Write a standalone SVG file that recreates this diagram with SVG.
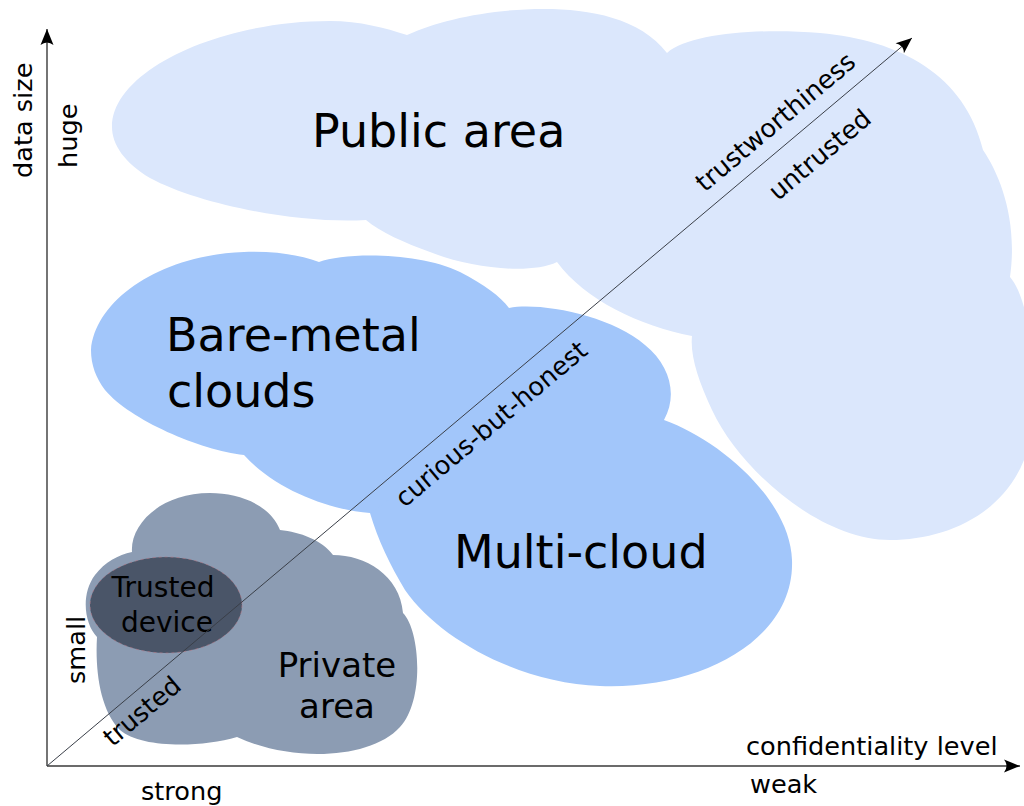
<svg xmlns="http://www.w3.org/2000/svg" width="1024" height="806" viewBox="0 0 1024 806">
<defs>
<style>
text{font-family:"DejaVu Sans","Verdana",sans-serif;fill:#000}
.big{font-size:46px}
.lbl{font-size:25.6px}
.axis{stroke:#3a3a3a;stroke-width:1.4;fill:none}
.diag{stroke:#3a3f48;stroke-width:1;fill:none}
</style>
<marker id="arr" markerUnits="userSpaceOnUse" markerWidth="24" markerHeight="16" viewBox="-20 -8 24 16" refX="0" refY="0" orient="auto">
<path d="M0,0 L-16,-6.5 Q-11,0 -16,6.5 Z" fill="#000"/>
</marker>
</defs>
<rect width="1024" height="806" fill="#fff"/>

<g id="public-area">
<path fill="#dbe7fc" d="M112,127 C112,70 220,21 330,21 C360,21 385,28 407,35 C440,20 490,9 544,9 C590,9 640,18 667,53 C690,33 760,28 820,33 C900,40 965,75 983,150 C1000,175 1018,220 1010,277 C1030,300 1040,380 1030,440 C1015,510 950,540 890,540 C820,540 740,470 712,410 C698,380 690,355 692,336 C640,326 585,300 557,262 C530,275 470,268 430,252 C405,243 380,232 366,220 C300,224 200,205 150,178 C125,163 112,145 112,127 Z"/>
<text class="big" x="312" y="147">Public area</text>
</g>

<g id="bare-metal">
<path fill="#a2c6fa" d="M91,350 C95,300 160,255 244,252 C275,251 300,255 319,262 C345,252 420,252 460,272 C485,285 500,296 509,308 C540,302 610,315 645,345 C670,365 678,395 664,420 L640,440 L560,470 L420,520 L370,513 C330,510 275,490 244,455 C200,450 130,420 105,390 C96,378 91,365 91,350 Z"/>
<text class="big" x="166" y="351">Bare-metal</text>
<text class="big" x="167" y="407">clouds</text>
</g>

<g id="multi-cloud">
<path fill="#a2c6fa" d="M664,420 C720,440 790,500 792,560 C795,640 700,690 600,686 C520,683 440,640 405,590 C390,565 378,540 370,513 L500,420 Z"/>
<text class="big" x="454" y="568">Multi-cloud</text>
</g>

<g id="private-area">
<path fill="#8c9cb3" d="M132,552 C130,525 160,493 210,493 C240,493 270,505 280,530 C300,532 322,540 333,555 C365,555 400,575 403,613 C420,630 425,700 400,727 C370,760 290,762 237,737 C200,748 140,748 120,730 C100,710 95,670 97,637 C85,625 80,595 95,575 C105,562 118,555 132,552 Z"/>
<text x="337" y="677" style="font-size:34px" text-anchor="middle">Private</text>
<text x="337" y="718" style="font-size:34px" text-anchor="middle">area</text>
</g>

<g id="trusted-device">
<ellipse cx="166" cy="605" rx="76" ry="48" fill="#4a5568" stroke="#b87482" stroke-width="0.8" stroke-dasharray="3 3" stroke-opacity="0.7"/>
<text x="163" y="597" style="font-size:28px" text-anchor="middle">Trusted</text>
<text x="167" y="632" style="font-size:28px" text-anchor="middle">device</text>
</g>

<g id="connectors">
<line class="axis" x1="47" y1="766" x2="47" y2="29" marker-end="url(#arr)"/>
<line class="axis" x1="47" y1="766" x2="1020" y2="766" marker-end="url(#arr)"/>
<line class="diag" x1="47" y1="766" x2="912" y2="38" marker-end="url(#arr)"/>
</g>

<g id="axis-labels">
<text class="lbl" transform="translate(32,178) rotate(-90)">data size</text>
<text class="lbl" transform="translate(77,168) rotate(-90)">huge</text>
<text class="lbl" transform="translate(85,684) rotate(-90)">small</text>
<text class="lbl" x="746" y="755">confidentiality level</text>
<text class="lbl" x="750" y="793">weak</text>
<text class="lbl" x="141" y="800">strong</text>
</g>

<g id="diagonal-labels">
<text class="lbl" text-anchor="middle" transform="translate(790.7,140.1) rotate(-40.08)" y="-15">trustworthiness</text>
<text class="lbl" text-anchor="middle" transform="translate(800.9,132.4) rotate(-40.08)" y="38">untrusted</text>
<text class="lbl" text-anchor="middle" transform="translate(475.5,405.4) rotate(-40.08)" y="33">curious-but-honest</text>
<text class="lbl" text-anchor="middle" transform="translate(129.6,696.5) rotate(-40.08)" y="28">trusted</text>
</g>
</svg>
